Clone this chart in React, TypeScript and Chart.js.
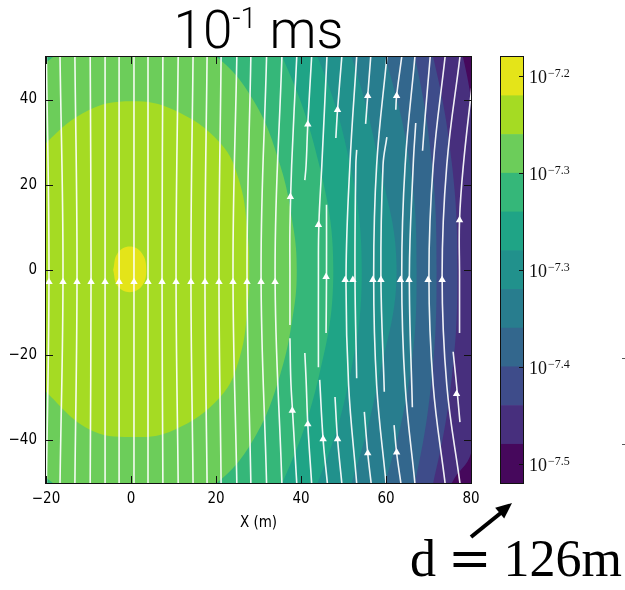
import React, { useEffect, useRef } from 'react';
import { Chart, registerables } from 'chart.js';

Chart.register(...registerables);

// ---------- axes ----------
const xTicks = [-20, 0, 20, 40, 60, 80];
const yTicks = [-40, -20, 0, 20, 40];
const xRange = [-20, 80];
const yRange = [-50, 50];

// ---------- filled contour levels (outermost / lowest first) ----------
const levelColors = [
  '#46085c', '#472f7d', '#3e4c8a', '#33678d', '#287d8e', '#21918c',
  '#1fa486', '#35b779', '#6ccd5a', '#a5db23', '#e4e419',
];

// contour boundaries, (x, y) in metres, outermost first
const contour10_11: [number, number][] = [
  [74, 66], [78.1, 50], [80, 40.4], [83, 20], [84, 0], [83, -20], [80, -43], [75.5, -50], [70, -66],
  [-60, -66], [-60, 66], [74, 66],
];
const contour9_10: [number, number][] = [
  [66, 66], [71.1, 50], [75.5, 25], [76.8, 0], [75.5, -25], [71.1, -50], [66, -66],
  [-60, -66], [-60, 66], [66, 66],
];
const contour8_9: [number, number][] = [
  [62, 66], [66.8, 50], [70.8, 25], [71.9, 0], [70.8, -25], [66.8, -50], [62, -66],
  [-60, -66], [-60, 66], [62, 66],
];
const contour7_8: [number, number][] = [
  [54, 66], [59.8, 50], [65.6, 25], [67.2, 0], [65.6, -25], [59.8, -50], [54, -66],
  [-60, -66], [-60, 66], [54, 66],
];
const contour6_7: [number, number][] = [
  [45, 66], [51.9, 50], [58.4, 25], [62.5, 0], [58.4, -25], [51.9, -50], [45, -66],
  [-60, -66], [-60, 66], [45, 66],
];
const contour5_6: [number, number][] = [
  [35, 66], [43.9, 50], [51.5, 25], [54.3, 0], [51.5, -25], [43.9, -50], [35, -66],
  [-60, -66], [-60, 66], [35, 66],
];
const contour4_5: [number, number][] = [
  [26, 66], [35.6, 50], [44.2, 25], [47.6, 0], [44.2, -25], [35.6, -50], [26, -66],
  [-60, -66], [-60, 66], [26, 66],
];
const contour3_4: [number, number][] = [
  [-30, 38], [-20, 48.7], [-10, 54.5], [0, 57], [10, 55], [20.2, 50], [29, 39.5], [35.1, 24.6],
  [38.2, 10], [39, 0], [38.2, -10], [35.1, -24.6], [29, -39.5], [20.2, -50], [10, -55], [0, -57],
  [-10, -54.5], [-20, -48.7], [-30, -38], [-38, -15], [-38, 15], [-30, 38],
];
const contour2_3: [number, number][] = [
  [-30, 18], [-20, 29.8], [-10, 37.5], [0, 39.6], [10, 37.6], [21, 29.8], [25.6, 20.4], [27.5, 8],
  [27.8, 0], [27.5, -8], [25.6, -20.4], [21, -29.8], [10, -37.6], [0, -39.2], [-10, -37.3],
  [-20, -28.6], [-30, -18], [-33, 0], [-30, 18],
];
const contour1_2: [number, number][] = [
  [-4.2, 0], [-3.2, 3.9], [-0.3, 5.5], [2.6, 3.9], [3.6, 0], [2.6, -3.7], [-0.3, -5.2],
  [-3.2, -3.7], [-4.2, 0],
];
const contourBoundaries = [
  contour10_11, contour9_10, contour8_9, contour7_8, contour6_7,
  contour5_6, contour4_5, contour3_4, contour2_3, contour1_2,
];

// ---------- streamlines ----------
// left family: x at y = 0 and x at y = +/-50
const streamMidX = [-19.3, -16.0, -12.7, -9.4, -6.1, -2.8, 0.7, 4.0, 7.3, 10.6, 14.1, 17.4, 20.7, 24.0, 27.3, 30.6, 33.9];
const streamEndX = [-19.9, -16.7, -13.2, -9.6, -6.1, -2.8, 0.7, 4.0, 7.5, 11.1, 14.6, 17.9, 21.2, 24.9, 28.2, 31.9, 35.5];
// right family: broken segments
const streamSegments: [number, number][][] = [
  [[39.0, 50], [37.8, 24.6], [37.4, 10], [37.4, -1.2], [37.4, -12.9]],
  [[37.4, -16], [37.6, -25.8], [38.0, -33], [39.0, -50]],
  [[42.5, 50], [41.6, 34.2], [41.2, 24.6], [40.9, 21.1]],
  [[40.9, -19.5], [41.2, -25.8], [41.6, -36.2], [42.5, -50]],
  [[46.1, 50], [44.9, 24.6], [44.2, 10.6], [44.1, -1.2], [44.1, -22.8]],
  [[44.4, -25.8], [45.2, -39.7], [46.2, -50]],
  [[46.0, 15.3], [46.0, -1.6], [45.9, -14.8]],
  [[49.6, 50], [48.6, 37.6], [48.2, 31]],
  [[48.0, -29.8], [48.6, -39.7], [49.6, -50]],
  [[53.1, 50], [51.5, 24.6], [50.6, -1.2], [51.2, -27], [53.1, -50]],
  [[53.1, 28.2], [52.9, 24.6], [52.7, -1.2], [53.1, -25.4]],
  [[56.4, 50], [55.7, 40.9], [55.2, 34.3]],
  [[54.9, -33.3], [55.7, -43], [56.5, -50]],
  [[60.2, 50], [57.8, 24.6], [57.1, -1.2], [57.8, -27], [60.0, -50]],
  [[60.2, 31.2], [59.3, 24.6], [58.8, -1.2], [59.6, -28.6]],
  [[63.7, 50], [62.5, 40.9], [62.3, 37.6]],
  [[61.9, -36.4], [62.5, -42.9], [63.5, -50]],
  [[66.8, 50], [64.5, 24.6], [63.7, -1.2], [64.5, -27], [66.8, -50]],
  [[67.0, 34.5], [66.4, 24.6], [65.5, -1.2], [66.2, -32.2]],
  [[70.4, 50], [69.2, 36], [68.6, 28]],
  [[73.9, 50], [71.1, 24.6], [70.1, -1.2], [71.1, -27], [73.9, -50]],
  [[77.4, 50], [74.3, 24.6], [73.2, -1.2], [74.3, -27], [77.4, -50]],
  [[80.2, 43], [78.2, 24.6], [77.3, 11.7], [77.3, -1.2], [77.3, -14.8]],
  [[75.8, -19.2], [76.6, -27], [77.4, -35.7]],
];
// arrow heads
const arrowX = [
  -19.3, -16.0, -12.7, -9.4, -6.1, -2.8, 0.7, 4.0, 7.3, 10.6, 14.1, 17.4, 20.7, 24.0, 27.3, 30.6, 33.9,
  37.5, 37.95, 41.6, 41.6, 44.1, 45.2, 45.9, 48.6, 48.6, 50.4, 52.2, 55.7, 55.7, 56.9, 58.8,
  62.5, 62.5, 63.4, 65.4, 69.9, 73.2, 77.3, 76.6,
];
const arrowY = [
  -2.8, -2.8, -2.8, -2.8, -2.8, -2.8, -2.8, -2.8, -2.8, -2.8, -2.8, -2.8, -2.8, -2.8, -2.8, -2.8, -2.8,
  17.2, -33.0, 34.2, -36.2, 10.6, -39.7, -1.6, 37.6, -39.7, -2.3, -2.3, 40.9, -43.0, -2.3, -2.3,
  40.9, -42.8, -2.3, -2.3, -2.3, -2.3, 11.7, -29.1,
];

// ---------- colour bar ----------
const cbarEdges = [0, 1, 2, 3, 4, 5, 6, 7, 8, 9, 10, 11];
const cbarTickPos = [10.5, 8, 5.5, 3, 0.5];
const cbarTickExp = ['\u22127.2', '\u22127.3', '\u22127.3', '\u22127.4', '\u22127.5'];

const tickFont = { family: '"DejaVu Sans Condensed", "DejaVu Sans", sans-serif', size: 15 };
const fmt = (v: number) => (v < 0 ? '\u2212' + Math.abs(v) : String(v));
const toXY = (pts: [number, number][]) => pts.map(([x, y]) => ({ x, y }));

const mainPlugin = {
  id: 'mainFrame',
  beforeDatasetsDraw(chart: any) {
    const { ctx, chartArea: a } = chart;
    ctx.save();
    ctx.fillStyle = levelColors[0];
    ctx.fillRect(a.left, a.top, a.right - a.left, a.bottom - a.top);
    ctx.restore();
  },
  afterDatasetsDraw(chart: any) {
    const { ctx, chartArea: a, scales } = chart;
    ctx.save();
    ctx.strokeStyle = '#111';
    ctx.lineWidth = 1;
    const tl = 7;
    ctx.beginPath();
    xTicks.forEach((v) => {
      const px = Math.round(scales.x.getPixelForValue(v)) + 0.5;
      ctx.moveTo(px, a.bottom);
      ctx.lineTo(px, a.bottom - tl);
      ctx.moveTo(px, a.top);
      ctx.lineTo(px, a.top + tl);
    });
    yTicks.forEach((v) => {
      const py = Math.round(scales.y.getPixelForValue(v)) + 0.5;
      ctx.moveTo(a.left, py);
      ctx.lineTo(a.left + tl, py);
      ctx.moveTo(a.right, py);
      ctx.lineTo(a.right - tl, py);
    });
    ctx.stroke();
    ctx.strokeRect(a.left - 0.5, a.top - 0.5, a.right - a.left + 1, a.bottom - a.top + 1);
    ctx.restore();
  },
};

const cbarPlugin = {
  id: 'cbarFrame',
  afterDatasetsDraw(chart: any) {
    const { ctx, chartArea: a, scales } = chart;
    ctx.save();
    ctx.strokeStyle = '#111';
    ctx.lineWidth = 1;
    ctx.strokeRect(a.left - 0.5, a.top - 0.5, a.right - a.left + 1, a.bottom - a.top + 1);
    ctx.fillStyle = '#111';
    ctx.textBaseline = 'alphabetic';
    ctx.textAlign = 'left';
    cbarTickPos.forEach((p, i) => {
      const py = Math.round(scales.y.getPixelForValue(p)) + 0.5;
      ctx.beginPath();
      ctx.moveTo(a.right, py);
      ctx.lineTo(a.right - 4, py);
      ctx.stroke();
      const x0 = a.right + 6;
      ctx.font = '18px "Liberation Serif", serif';
      ctx.fillText('10', x0, py + 6);
      const w = ctx.measureText('10').width;
      ctx.font = '12px "Liberation Serif", serif';
      ctx.fillText(cbarTickExp[i], x0 + w + 1, py);
    });
    ctx.restore();
  },
};

export default function App() {
  const mainRef = useRef<HTMLCanvasElement>(null);
  const cbarRef = useRef<HTMLCanvasElement>(null);

  useEffect(() => {
    const datasets: any[] = [];
    contourBoundaries.forEach((pts, k) => {
      datasets.push({
        data: toXY(pts),
        backgroundColor: levelColors[k + 1],
        borderColor: 'transparent',
        borderWidth: 0,
        pointRadius: 0,
        fill: 'shape',
        tension: 0.4,
        order: 100 - k,
      });
    });
    const streamStyle = {
      borderColor: 'rgba(255,255,255,0.92)',
      borderWidth: 1.6,
      pointRadius: 0,
      fill: false,
      tension: 0.4,
      order: 1,
    };
    streamMidX.forEach((m, i) => {
      datasets.push({
        ...streamStyle,
        data: toXY([[streamEndX[i], yRange[1]], [m, 0], [streamEndX[i], yRange[0]]]),
      });
    });
    streamSegments.forEach((seg) => {
      datasets.push({ ...streamStyle, data: toXY(seg) });
    });
    datasets.push({
      data: arrowX.map((x, i) => ({ x, y: arrowY[i] })),
      showLine: false,
      pointStyle: 'triangle',
      pointRadius: 4.3,
      pointBackgroundColor: '#ffffff',
      pointBorderWidth: 0,
      pointBorderColor: 'transparent',
      order: 0,
    });

    const main = new Chart(mainRef.current as HTMLCanvasElement, {
      type: 'line',
      data: { datasets },
      options: {
        responsive: false,
        animation: false,
        devicePixelRatio: 1,
        events: [],
        layout: { padding: { top: 57, right: 9, left: 0, bottom: 0 } },
        elements: { line: { capBezierPoints: false }, point: { radius: 0 } },
        plugins: { legend: { display: false }, tooltip: { enabled: false } },
        scales: {
          x: {
            type: 'linear',
            min: xRange[0],
            max: xRange[1],
            afterBuildTicks: (s: any) => { s.ticks = xTicks.map((v) => ({ value: v })); },
            afterFit: (s: any) => { s.height = 57; s.paddingLeft = 0; s.paddingRight = 0; },
            grid: { display: false, drawTicks: false },
            border: { display: false },
            ticks: { padding: 7, color: '#000', font: tickFont, autoSkip: false, maxRotation: 0, callback: (v: any) => fmt(Number(v)) },
            title: { display: true, text: 'X (m)', color: '#000', font: tickFont, padding: { top: 0, bottom: 8 } },
          },
          y: {
            type: 'linear',
            min: yRange[0],
            max: yRange[1],
            afterBuildTicks: (s: any) => { s.ticks = yTicks.map((v) => ({ value: v })); },
            afterFit: (s: any) => { s.width = 46; s.paddingTop = 0; s.paddingBottom = 0; },
            grid: { display: false, drawTicks: false },
            border: { display: false },
            ticks: { padding: 9, color: '#000', font: tickFont, autoSkip: false, callback: (v: any) => fmt(Number(v)) },
          },
        },
      } as any,
      plugins: [mainPlugin],
    });

    const cbar = new Chart(cbarRef.current as HTMLCanvasElement, {
      type: 'bar',
      data: {
        labels: ['level'],
        datasets: levelColors.map((c, i) => ({
          data: [[cbarEdges[i], cbarEdges[i + 1]]],
          backgroundColor: c,
          borderWidth: 0,
          grouped: false,
          barPercentage: 1,
          categoryPercentage: 1,
        })),
      } as any,
      options: {
        responsive: false,
        animation: false,
        devicePixelRatio: 1,
        events: [],
        layout: { padding: { left: 11, right: 102, top: 57, bottom: 107 } },
        plugins: { legend: { display: false }, tooltip: { enabled: false } },
        scales: {
          x: { display: false },
          y: { display: false, min: cbarEdges[0], max: cbarEdges[cbarEdges.length - 1] },
        },
      } as any,
      plugins: [cbarPlugin],
    });

    return () => {
      main.destroy();
      cbar.destroy();
    };
  }, []);

  return (
    <div style={{ position: 'absolute', left: 0, top: 0, width: 625, height: 590, background: '#fff', overflow: 'hidden' }}>
      <canvas ref={mainRef} width={480} height={540} style={{ position: 'absolute', left: 0, top: 0 }} />
      <canvas ref={cbarRef} width={135} height={590} style={{ position: 'absolute', left: 490, top: 0 }} />
      <div
        style={{
          position: 'absolute', left: 0, top: 4, width: 517, textAlign: 'center',
          fontFamily: 'Roboto, "Liberation Sans", sans-serif', fontWeight: 300, fontSize: 53,
          lineHeight: '53px', color: '#000', whiteSpace: 'nowrap',
        }}
      >
        10<span style={{ fontSize: 29, position: 'relative', top: -20 }}>-1</span> ms
      </div>
      <div
        style={{
          position: 'absolute', left: 410, top: 532, fontFamily: '"Liberation Serif", serif',
          fontSize: 52, lineHeight: '52px', color: '#000', whiteSpace: 'nowrap',
        }}
      >
        d<span style={{ fontFamily: '"DejaVu Serif", serif', margin: '0 12px 0 12px' }}>=</span>126m
      </div>
      <svg width={625} height={590} style={{ position: 'absolute', left: 0, top: 0, pointerEvents: 'none' }}>
        <line x1={471} y1={537} x2={502} y2={512} stroke="#000" strokeWidth={4} />
        <polygon points="512,503 504.2,518.6 495.2,507.8" fill="#000" />
      </svg>
      <div style={{ position: 'absolute', left: 622, top: 358, width: 3, height: 1, background: '#555' }} />
      <div style={{ position: 'absolute', left: 622, top: 444, width: 3, height: 1, background: '#555' }} />
    </div>
  );
}
